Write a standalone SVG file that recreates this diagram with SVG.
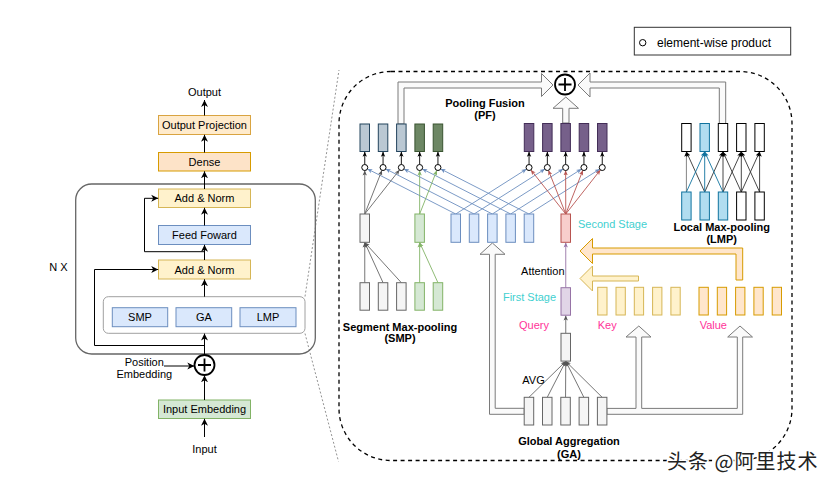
<svg xmlns="http://www.w3.org/2000/svg" width="832" height="488" viewBox="0 0 832 488">
<defs>
<marker id="mk" markerUnits="userSpaceOnUse" markerWidth="9" markerHeight="9" refX="7" refY="4.5" orient="auto"><path d="M0,1 L7,4.5 L0,8 L2,4.5 Z" fill="#000"/></marker>
<marker id="mb" markerUnits="userSpaceOnUse" markerWidth="6" markerHeight="6" refX="5" refY="3" orient="auto"><path d="M0,0.8 L5,3 L0,5.2 L1.3,3 Z" fill="#000"/></marker>
<marker id="mg" markerUnits="userSpaceOnUse" markerWidth="6" markerHeight="6" refX="5" refY="3" orient="auto"><path d="M0,0.8 L5,3 L0,5.2 L1.3,3 Z" fill="#555"/></marker>
<marker id="mgr" markerUnits="userSpaceOnUse" markerWidth="6" markerHeight="6" refX="5" refY="3" orient="auto"><path d="M0,0.8 L5,3 L0,5.2 L1.3,3 Z" fill="#82b366"/></marker>
<marker id="mbl" markerUnits="userSpaceOnUse" markerWidth="6" markerHeight="6" refX="5" refY="3" orient="auto"><path d="M0,0.8 L5,3 L0,5.2 L1.3,3 Z" fill="#6c8ebf"/></marker>
<marker id="mr" markerUnits="userSpaceOnUse" markerWidth="6" markerHeight="6" refX="5" refY="3" orient="auto"><path d="M0,0.8 L5,3 L0,5.2 L1.3,3 Z" fill="#b85450"/></marker>
<marker id="mp" markerUnits="userSpaceOnUse" markerWidth="6" markerHeight="6" refX="5" refY="3" orient="auto"><path d="M0,0.8 L5,3 L0,5.2 L1.3,3 Z" fill="#9673a6"/></marker>
<marker id="ml" markerUnits="userSpaceOnUse" markerWidth="6" markerHeight="6" refX="5" refY="3" orient="auto"><path d="M0,0.8 L5,3 L0,5.2 L1.3,3 Z" fill="#10739e"/></marker>
</defs>
<style>
text{font-family:"Liberation Sans",Arial,sans-serif;font-size:11px;fill:#000;text-anchor:middle}
.bd{font-weight:bold}
.cy{fill:#3fd0d0;text-anchor:start}
.pk{fill:#ff3399}
.lft{text-anchor:start}
.yel{fill:#fff2cc;stroke:#d6b656;stroke-width:1}
.blu{fill:#dae8fc;stroke:#6c8ebf;stroke-width:1}
.grn{fill:#d5e8d4;stroke:#82b366;stroke-width:1}
.gry{fill:#f5f5f5;stroke:#666;stroke-width:1}
.org{fill:#ffe6cc;stroke:#d79b00;stroke-width:1}
.sl{fill:#bac8d3;stroke:#23445d;stroke-width:1}
.dg{fill:#6d8764;stroke:#3a5431;stroke-width:1}
.pu{fill:#76608a;stroke:#432d57;stroke-width:1}
.rd{fill:#f8cecc;stroke:#b85450;stroke-width:1}
.lp{fill:#e1d5e7;stroke:#9673a6;stroke-width:1}
.lb{fill:#b1ddf0;stroke:#10739e;stroke-width:1}
.wh{fill:#fff;stroke:#000;stroke-width:1}
.ew{fill:#fff;stroke:#000;stroke-width:1}
.k{stroke:#000;stroke-width:1;fill:none}
.hol{fill:#fafafa;stroke:#7a7a7a;stroke-width:1;stroke-linejoin:miter}
</style>
<rect width="832" height="488" fill="#fff"/>

<!-- zoom guide lines -->
<g id="zoom-guides" fill="none" stroke="#777" stroke-width="0.8" stroke-dasharray="2 2">
<line x1="305" y1="296.5" x2="339" y2="70"/>
<line x1="305" y1="333.5" x2="338.5" y2="461.5"/>
</g>

<!-- left panel -->
<g id="encoder-block"><rect x="75.7" y="184" width="239.6" height="170" rx="16" fill="none" stroke="#666" stroke-width="1.3"/></g>
<text x="58.3" y="270.5">N X</text>
<g id="attention-group"><rect x="103.3" y="296.7" width="201.7" height="36.6" rx="5" fill="none" stroke="#a0a0a0" stroke-width="1"/></g>
<g id="out-proj"><rect class="org" x="158.5" y="115.5" width="92" height="19" style="fill:#ffebcc;stroke:#d9a441"/><text x="204.5" y="129">Output Projection</text></g>
<g id="dense"><rect class="org" x="158.5" y="152.5" width="92" height="18.5" style="fill:#fde3c8"/><text x="204.5" y="165.7">Dense</text></g>
<g id="add-norm-2"><rect class="yel" x="158.5" y="189" width="92" height="18.5"/><text x="204.5" y="202.2">Add &amp; Norm</text></g>
<g id="feed-forward"><rect class="blu" x="158.5" y="225.5" width="92" height="19"/><text x="204.5" y="239">Feed Foward</text></g>
<g id="add-norm-1"><rect class="yel" x="158.5" y="260" width="92" height="19"/><text x="204.5" y="273.5">Add &amp; Norm</text></g>
<g id="smp-box"><rect class="blu" x="112.3" y="307.7" width="55.4" height="19"/><text x="140" y="321.2">SMP</text></g>
<g id="ga-box"><rect class="blu" x="176" y="307.7" width="55.7" height="19"/><text x="203.9" y="321.2">GA</text></g>
<g id="lmp-box"><rect class="blu" x="240" y="307.7" width="56" height="19"/><text x="268" y="321.2">LMP</text></g>
<g id="plus-left"><circle cx="204.5" cy="365" r="10" fill="#fff" stroke="#000" stroke-width="1.8"/><path d="M198,365 H211 M204.5,358.5 V371.5" stroke="#000" stroke-width="1.8"/></g>
<g id="input-emb"><rect class="grn" x="158.5" y="400" width="92" height="18.5"/><text x="204.5" y="413.2">Input Embedding</text></g>
<text x="204.5" y="95.5">Output</text>
<text x="204.5" y="453">Input</text>
<text x="144.3" y="366">Position</text>
<text x="144.3" y="378">Embedding</text>

<g id="left-connectors" class="k">
<line x1="204.5" y1="437" x2="204.5" y2="418.8" marker-end="url(#mk)"/>
<line x1="204.5" y1="400" x2="204.5" y2="375.3" marker-end="url(#mk)"/>
<line x1="164" y1="366" x2="194.3" y2="366" marker-end="url(#mk)"/>
<line x1="204.5" y1="355" x2="204.5" y2="333.6" marker-end="url(#mk)"/>
<polyline points="204.5,345.5 94.5,345.5 94.5,269.5 158.2,269.5" marker-end="url(#mk)"/>
<line x1="204.5" y1="296.7" x2="204.5" y2="279.3" marker-end="url(#mk)"/>
<line x1="204.5" y1="260" x2="204.5" y2="244.8" marker-end="url(#mk)"/>
<polyline points="204.5,251.7 144.5,251.7 144.5,198.3 158.2,198.3" marker-end="url(#mk)"/>
<line x1="204.5" y1="225.5" x2="204.5" y2="207.8" marker-end="url(#mk)"/>
<line x1="204.5" y1="189" x2="204.5" y2="171.3" marker-end="url(#mk)"/>
<line x1="204.5" y1="152.5" x2="204.5" y2="134.8" marker-end="url(#mk)"/>
<line x1="204.5" y1="115.5" x2="204.5" y2="100" marker-end="url(#mk)"/>
</g>

<!-- right panel -->
<g id="detail-frame"><rect x="339" y="71.5" width="453" height="389" rx="52" fill="none" stroke="#000" stroke-width="1.3" stroke-dasharray="4 3.5"/></g>

<g id="legend"><rect x="634.3" y="27.3" width="156.4" height="27.7" fill="#fff" stroke="#333" stroke-width="1"/><circle class="ew" cx="642.7" cy="42.7" r="3.2"/><text class="lft" x="657" y="46.6" style="font-size:12px">element-wise product</text></g>

<!-- hollow fusion arrows -->
<g id="fusion-arrows">
<path class="hol" d="M398,124 V82 H541.5 V73.5 L553,85 L541.5,96.5 V88 H404 V124 Z"/>
<path class="hol" d="M562.7,123 V108.3 H553 L565.8,97 L578.5,108.3 H569 V123 Z"/>
<path class="hol" d="M725.7,124 V82 H590 V73 L578,85 L590,97 V88 H719.3 V124 Z"/>
<path class="hol" d="M524.2,408.3 H495.2 V254.3 H505 L492.4,243 L480,254.3 H489.5 V414.3 H524.2 Z"/>
<path class="hol" d="M606.9,408.4 H636 V337 H626 L638.8,326 L651,337 H641.7 V408.4 H737.3 V337 H727.7 L740,326 L752.5,337 H742.7 V414.3 H606.9 Z"/>
<path class="hol" d="M638.5,276 H592.5 V266 L580,278.5 L592.5,291 V281 H638.5 Z" style="fill:#fff2cc;stroke:#d6b656"/>
<path class="hol" d="M742.7,280 V248 H592.5 V238.5 L580,251 L592.5,263.5 V254 H736 V280 Z" style="fill:#ffe6cc;stroke:#d79b00"/>
</g>

<g id="plus-right"><circle cx="565" cy="84.5" r="10" fill="#fff" stroke="#000" stroke-width="1.8"/><path d="M558.5,84.5 H571.5 M565,78 V91" stroke="#000" stroke-width="1.8"/></g>

<text class="bd" x="485" y="106.7">Pooling Fusion</text>
<text class="bd" x="485" y="118.7">(PF)</text>

<!-- connectors -->
<g id="connectors" fill="none" stroke-width="0.9">
<g stroke="#6c8ebf" marker-end="url(#mbl)">
<line x1="455.75" y1="214" x2="367.4" y2="168.9"/>
<line x1="474.05" y1="214" x2="385.7" y2="168.9"/>
<line x1="492.35" y1="214" x2="404" y2="168.9"/>
<line x1="510.65" y1="214" x2="422.3" y2="168.9"/>
<line x1="528.95" y1="214" x2="440.6" y2="168.9"/>
<line x1="455.75" y1="214" x2="526.5" y2="169.1"/>
<line x1="474.05" y1="214" x2="544.8" y2="169.1"/>
<line x1="492.35" y1="214" x2="563.1" y2="169.1"/>
<line x1="510.65" y1="214" x2="581.4" y2="169.1"/>
<line x1="528.95" y1="214" x2="599.7" y2="169.1"/>
</g>
<g stroke="#666" marker-end="url(#mg)">
<line x1="364.75" y1="214" x2="364.75" y2="170.5"/>
<line x1="364.75" y1="214" x2="381.95" y2="170.3"/>
<line x1="364.75" y1="214" x2="399.5" y2="169.9"/>
<line x1="364.75" y1="282.7" x2="364.75" y2="242.5"/>
<line x1="383.05" y1="282.7" x2="364.75" y2="242.5"/>
<line x1="401.35" y1="282.7" x2="364.75" y2="242.5"/>
<line x1="565.75" y1="333.3" x2="565.75" y2="315.5"/>
<line x1="528.95" y1="397.3" x2="565.75" y2="361.3"/>
<line x1="547.25" y1="397.3" x2="565.75" y2="361.3"/>
<line x1="565.55" y1="397.3" x2="565.75" y2="361.3"/>
<line x1="583.85" y1="397.3" x2="565.75" y2="361.3"/>
<line x1="602.15" y1="397.3" x2="565.75" y2="361.3"/>
</g>
<g stroke="#82b366" marker-end="url(#mgr)">
<line x1="419.65" y1="214" x2="419.65" y2="170.5"/>
<line x1="419.65" y1="214" x2="436.85" y2="170.3"/>
<line x1="419.65" y1="282.7" x2="419.65" y2="242.5"/>
<line x1="437.95" y1="282.7" x2="419.65" y2="242.5"/>
</g>
<g stroke="#b85450" marker-end="url(#mr)">
<line x1="565.75" y1="214" x2="530.9" y2="169.9"/>
<line x1="565.75" y1="214" x2="548.45" y2="170.3"/>
<line x1="565.75" y1="214" x2="565.65" y2="170.5"/>
<line x1="565.75" y1="214" x2="582.85" y2="170.3"/>
<line x1="565.75" y1="214" x2="600.4" y2="169.9"/>
</g>
<line stroke="#9673a6" x1="565.75" y1="287.7" x2="565.75" y2="242.5" marker-end="url(#mp)"/>
<g stroke="#000" marker-end="url(#mb)">
<line x1="364.75" y1="164.5" x2="364.75" y2="151.8"/>
<line x1="383.05" y1="164.5" x2="383.05" y2="151.8"/>
<line x1="401.35" y1="164.5" x2="401.35" y2="151.8"/>
<line x1="419.65" y1="164.5" x2="419.65" y2="151.8"/>
<line x1="437.95" y1="164.5" x2="437.95" y2="151.8"/>
<line x1="529.05" y1="164.5" x2="529.05" y2="151.8"/>
<line x1="547.35" y1="164.5" x2="547.35" y2="151.8"/>
<line x1="565.65" y1="164.5" x2="565.65" y2="151.8"/>
<line x1="583.95" y1="164.5" x2="583.95" y2="151.8"/>
<line x1="602.25" y1="164.5" x2="602.25" y2="151.8"/>
</g>
<g stroke="#333" marker-end="url(#mb)">
<line x1="686.4" y1="192" x2="686.4" y2="151.8" stroke="#777"/>
<line x1="704.7" y1="192" x2="686.4" y2="151.8"/>
<line x1="704.7" y1="192" x2="723" y2="151.8"/>
<line x1="723" y1="192" x2="723" y2="151.8"/>
<line x1="723" y1="192" x2="741.3" y2="151.8"/>
<line x1="741.3" y1="192" x2="723" y2="151.8"/>
<line x1="741.3" y1="192" x2="741.3" y2="151.8"/>
<line x1="741.3" y1="192" x2="759.6" y2="151.8"/>
<line x1="759.6" y1="192" x2="741.3" y2="151.8"/>
<line x1="759.6" y1="192" x2="759.6" y2="151.8"/>
</g>
<g stroke="#10739e" marker-end="url(#ml)">
<line x1="686.4" y1="192" x2="704.7" y2="151.8"/>
<line x1="704.7" y1="192" x2="704.7" y2="151.8"/>
<line x1="723" y1="192" x2="704.7" y2="151.8"/>
</g>
</g>

<!-- element-wise circles -->
<g id="ew-circles">
<circle class="ew" cx="364.75" cy="167.5" r="3"/><circle class="ew" cx="383.05" cy="167.5" r="3"/><circle class="ew" cx="401.35" cy="167.5" r="3"/><circle class="ew" cx="419.65" cy="167.5" r="3"/><circle class="ew" cx="437.95" cy="167.5" r="3"/>
<circle class="ew" cx="529.05" cy="167.5" r="3"/><circle class="ew" cx="547.35" cy="167.5" r="3"/><circle class="ew" cx="565.65" cy="167.5" r="3"/><circle class="ew" cx="583.95" cy="167.5" r="3"/><circle class="ew" cx="602.25" cy="167.5" r="3"/>
</g>

<!-- PF output bars -->
<g id="pf-smp-out">
<rect class="sl" x="360" y="124" width="9.5" height="27.5"/><rect class="sl" x="378.3" y="124" width="9.5" height="27.5"/><rect class="sl" x="396.6" y="124" width="9.5" height="27.5"/>
<rect class="dg" x="414.9" y="124" width="9.5" height="27.5"/><rect class="dg" x="433.2" y="124" width="9.5" height="27.5"/>
</g>
<g id="pf-ga-out">
<rect class="pu" x="524.3" y="123.5" width="9.5" height="28"/><rect class="pu" x="542.6" y="123.5" width="9.5" height="28"/><rect class="pu" x="560.9" y="123.5" width="9.5" height="28"/><rect class="pu" x="579.2" y="123.5" width="9.5" height="28"/><rect class="pu" x="597.5" y="123.5" width="9.5" height="28"/>
</g>

<!-- SMP -->
<g id="smp-pooled">
<rect class="gry" x="360" y="214" width="9.5" height="28.3"/>
<rect class="grn" x="414.9" y="214" width="9.5" height="28.3"/>
</g>
<g id="smp-input">
<rect class="gry" x="360" y="282.7" width="9.5" height="27.5"/><rect class="gry" x="378.3" y="282.7" width="9.5" height="27.5"/><rect class="gry" x="396.6" y="282.7" width="9.5" height="27.5"/>
<rect class="grn" x="414.9" y="282.7" width="9.5" height="27.5"/><rect class="grn" x="433.2" y="282.7" width="9.5" height="27.5"/>
</g>
<text class="bd" x="400" y="330.6">Segment Max-pooling</text>
<text class="bd" x="400" y="342.2">(SMP)</text>

<g id="blue-seq">
<rect class="blu" x="451" y="214" width="9.5" height="28.3"/><rect class="blu" x="469.3" y="214" width="9.5" height="28.3"/><rect class="blu" x="487.6" y="214" width="9.5" height="28.3"/><rect class="blu" x="505.9" y="214" width="9.5" height="28.3"/><rect class="blu" x="524.2" y="214" width="9.5" height="28.3"/>
</g>

<!-- GA -->
<g id="second-stage"><rect class="rd" x="561" y="214" width="9.5" height="28.3"/></g>
<text class="cy" x="578" y="228">Second Stage</text>
<text x="542.8" y="274.5">Attention</text>
<g id="first-stage"><rect class="lp" x="561" y="287.7" width="9.5" height="27.5"/></g>
<text x="529.5" y="301" style="fill:#3fd0d0">First Stage</text>
<text class="pk" x="534" y="328.6">Query</text>
<g id="avg"><rect class="gry" x="561" y="333.3" width="9.5" height="27.8"/></g>
<text x="533.5" y="384.2">AVG</text>
<g id="ga-input">
<rect class="gry" x="524.2" y="397.3" width="9.5" height="27.7"/><rect class="gry" x="542.5" y="397.3" width="9.5" height="27.7"/><rect class="gry" x="560.8" y="397.3" width="9.5" height="27.7"/><rect class="gry" x="579.1" y="397.3" width="9.5" height="27.7"/><rect class="gry" x="597.4" y="397.3" width="9.5" height="27.7"/>
</g>
<text class="bd" x="569" y="445">Global Aggregation</text>
<text class="bd" x="569" y="457.5">(GA)</text>

<g id="key">
<rect class="yel" x="597.7" y="287.3" width="9.3" height="27.7"/><rect class="yel" x="616" y="287.3" width="9.3" height="27.7"/><rect class="yel" x="634.3" y="287.3" width="9.3" height="27.7"/><rect class="yel" x="652.6" y="287.3" width="9.3" height="27.7"/><rect class="yel" x="670.9" y="287.3" width="9.3" height="27.7"/>
</g>
<text class="pk" x="607.2" y="328.6">Key</text>
<g id="value">
<rect class="org" x="699" y="287.3" width="9.3" height="27.7"/><rect class="org" x="717.3" y="287.3" width="9.3" height="27.7"/><rect class="org" x="735.6" y="287.3" width="9.3" height="27.7"/><rect class="org" x="753.9" y="287.3" width="9.3" height="27.7"/><rect class="org" x="772.2" y="287.3" width="9.3" height="27.7"/>
</g>
<text class="pk" x="713.3" y="328.6">Value</text>

<!-- LMP -->
<g id="lmp-out">
<rect class="wh" x="681.7" y="123.5" width="9.4" height="28"/><rect class="lb" x="700" y="123.5" width="9.4" height="28"/><rect class="wh" x="718.3" y="123.5" width="9.4" height="28"/><rect class="wh" x="736.6" y="123.5" width="9.4" height="28"/><rect class="wh" x="754.9" y="123.5" width="9.4" height="28"/>
</g>
<g id="lmp-in">
<rect class="lb" x="681.7" y="192" width="9.4" height="28"/><rect class="lb" x="700" y="192" width="9.4" height="28"/><rect class="lb" x="718.3" y="192" width="9.4" height="28"/><rect class="wh" x="736.6" y="192" width="9.4" height="28"/><rect class="wh" x="754.9" y="192" width="9.4" height="28"/>
</g>
<text class="bd" x="721.7" y="230.7">Local Max-pooling</text>
<text class="bd" x="721.7" y="242.7">(LMP)</text>

<text class="lft" x="667" y="469" style="font-family:'Noto Sans CJK SC','Liberation Sans',sans-serif;font-size:20px;letter-spacing:1px;fill:#222;stroke:#fff;stroke-width:3;paint-order:stroke;stroke-linejoin:round">头条 @阿里技术</text>
</svg>
